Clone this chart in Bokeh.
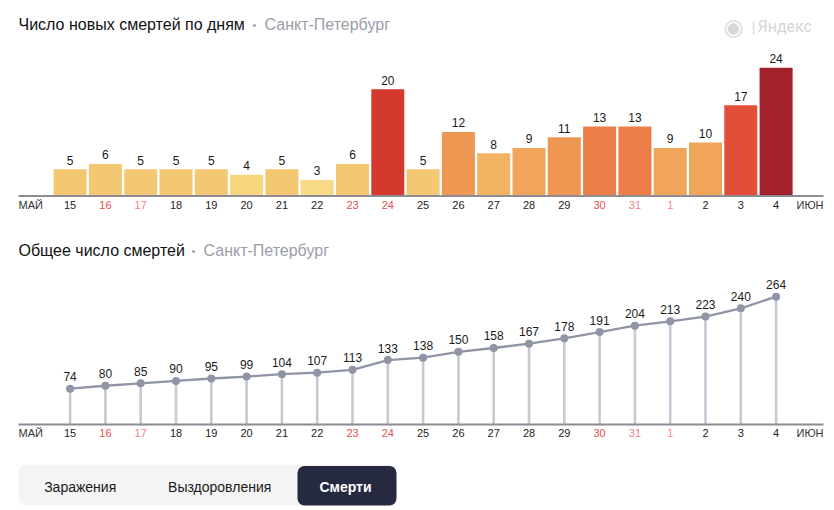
from bokeh.plotting import figure
from bokeh.layouts import column
from bokeh.models import Range1d, Label, BoxAnnotation, ColumnDataSource
from bokeh.core.properties import value
from bokeh.embed import file_html
from bokeh.resources import INLINE

# ---------------- data ----------------
days = ["15", "16", "17", "18", "19", "20", "21", "22", "23", "24", "25",
        "26", "27", "28", "29", "30", "31", "1", "2", "3", "4"]
month_start = "МАЙ"
month_end = "ИЮН"
new_deaths = [5, 6, 5, 5, 5, 4, 5, 3, 6, 20, 5, 12, 8, 9, 11, 13, 13, 9, 10, 17, 24]
total_deaths = [74, 80, 85, 90, 95, 99, 104, 107, 113, 133, 138, 150, 158, 167,
                178, 191, 204, 213, 223, 240, 264]
holiday_kind = [0, 1, 2, 0, 0, 0, 0, 0, 1, 1, 0, 0, 0, 0, 0, 1, 2, 2, 0, 0, 0]

title1 = "Число новых смертей по дням"
title2 = "Общее число смертей"
region = "Санкт-Петербург"
buttons = ["Заражения", "Выздоровления", "Смерти"]

# ---------------- styles ----------------
FONT_NAME = "Liberation Sans"
FONT = value(FONT_NAME)
DAY_COLORS = {0: "#222222", 1: "#e4514f", 2: "#ef8489"}


def bar_color(v):
    scale = [(3, "#f8d985"), (4, "#f7d680"), (6, "#f4c772"), (8, "#f2b462"),
             (10, "#f0a55a"), (12, "#ed9752"), (13, "#ec7c48"), (17, "#e24f38"),
             (20, "#d5392e"), (99, "#a3202d")]
    for lim, c in scale:
        if v <= lim:
            return c
    return scale[-1][1]


x = list(range(len(days)))
PX_PER_DAY = 35.3
FIRST_PX = 69.6
W = 834
XR = (-FIRST_PX / PX_PER_DAY, (W - FIRST_PX) / PX_PER_DAY)
AX0 = (18 - FIRST_PX) / PX_PER_DAY
AX1 = (823 - FIRST_PX) / PX_PER_DAY


def base_fig(h, xr, yr):
    p = figure(width=W, height=h, x_range=Range1d(*xr), y_range=Range1d(*yr),
               output_backend="svg", toolbar_location=None, tools="",
               x_axis_location=None, y_axis_location=None, min_border=0,
               min_border_left=0, min_border_right=0, min_border_top=0,
               min_border_bottom=0)
    p.grid.visible = False
    p.outline_line_color = None
    p.background_fill_color = None
    p.border_fill_color = None
    return p


def add_title(p, h, main, yfrom_top, dot_x, reg_x):
    yb = h - yfrom_top
    p.add_layout(Label(x=18, y=yb, x_units="screen", y_units="screen", text=main,
                       text_font=FONT_NAME, text_font_size="16px", text_color="#111111",
                       text_baseline="middle"))
    p.add_layout(Label(x=dot_x, y=yb, x_units="screen", y_units="screen", text="•",
                       text_font=FONT_NAME, text_font_size="11px", text_color="#a0a3ae",
                       text_baseline="middle", text_align="center"))
    p.add_layout(Label(x=reg_x, y=yb, x_units="screen", y_units="screen", text=region,
                       text_font=FONT_NAME, text_font_size="16px", text_color="#9a9daa",
                       text_baseline="middle"))


def add_day_axis(p):
    p.segment(x0=[AX0], y0=[0], x1=[AX1], y1=[0], line_color="#8c8c92", line_width=2)
    src = ColumnDataSource(dict(x=x, d=days, c=[DAY_COLORS[k] for k in holiday_kind]))
    p.text(x="x", y=0, text="d", text_color="c", source=src, y_offset=8.5,
           text_align="center", text_baseline="middle", text_font=FONT,
           text_font_size="11px")
    p.text(x=[AX0], y=[0], text=[month_start], text_color="#333333", y_offset=8.5,
           text_align="left", text_baseline="middle", text_font=FONT,
           text_font_size="11px")
    p.text(x=[AX1], y=[0], text=[month_end], text_color="#333333", y_offset=8.5,
           text_align="right", text_baseline="middle", text_font=FONT,
           text_font_size="11px")


# ---------------- bar chart ----------------
H1 = 223
BAR_PX = 5.34
ZERO1 = 195.5
p1 = base_fig(H1, XR, (-(H1 - ZERO1) / BAR_PX, ZERO1 / BAR_PX))
src1 = ColumnDataSource(dict(x=x, v=new_deaths, lab=[str(v) for v in new_deaths],
                             c=[bar_color(v) for v in new_deaths]))
p1.vbar(x="x", top="v", bottom=0, width=0.935, fill_color="c", line_color=None, source=src1)
p1.text(x="x", y="v", text="lab", source=src1, y_offset=-9, text_align="center",
        text_baseline="alphabetic", text_font=FONT, text_font_size="12px",
        text_color="#1a1a1a")
add_day_axis(p1)
add_title(p1, H1, title1, 24, 254, 264)

# Yandex mark
p1.add_layout(Label(x=733, y=H1 - 26, x_units="screen", y_units="screen", text="◉",
                    text_font="DejaVu Sans", text_font_size="23px",
                    text_color="#d8d8d8", text_baseline="middle", text_align="center"))
p1.add_layout(Label(x=753, y=H1 - 26, x_units="screen", y_units="screen", text="|",
                    text_font="Roboto", text_font_size="17px",
                    text_color="#dcdcdc", text_baseline="middle", text_align="center"))
p1.add_layout(Label(x=757, y=H1 - 26, x_units="screen", y_units="screen", text="Яндекс",
                    text_font="Roboto", text_font_size="16px",
                    text_color="#d6d6d6", text_baseline="middle"))

# ---------------- cumulative chart ----------------
H2 = 222
LINE_PX = 0.4842
ZERO2 = 201
p2 = base_fig(H2, XR, (-(H2 - ZERO2) / LINE_PX, ZERO2 / LINE_PX))
src2 = ColumnDataSource(dict(x=x, v=total_deaths, z=[0] * len(x),
                             lab=[str(v) for v in total_deaths]))
p2.segment(x0="x", y0="z", x1="x", y1="v", source=src2, line_color="#c6c9d3", line_width=2.6)
add_day_axis(p2)
p2.line(x="x", y="v", source=src2, line_color="#8f94a6", line_width=2.3)
p2.scatter(x="x", y="v", source=src2, size=8, fill_color="#8f94a6", line_color=None)
p2.text(x="x", y="v", text="lab", source=src2, y_offset=-12, text_align="center",
        text_baseline="alphabetic", text_font=FONT, text_font_size="12px",
        text_color="#1a1a1a")
add_title(p2, H2, title2, 27, 193, 203)

# ---------------- buttons ----------------
H3 = 65
p3 = base_fig(H3, (0, W), (H3, 0))
p3.add_layout(BoxAnnotation(left=18, right=396, top=19.3, bottom=60,
                            fill_color="#f4f4f5", fill_alpha=1, line_color=None,
                            border_radius=7))
p3.add_layout(BoxAnnotation(left=297, right=396, top=20.5, bottom=60,
                            fill_color="#262a40", fill_alpha=1, line_color=None,
                            border_radius=7))
btn_x = [79.7, 219.2, 345]
btn_col = ["#1a1a1a", "#1a1a1a", "#ffffff"]
btn_style = ["normal", "normal", "bold"]
for bx, bt, bc, bs in zip(btn_x, buttons, btn_col, btn_style):
    p3.add_layout(Label(x=bx, y=41.5, text=bt, text_font=FONT_NAME, text_font_size="14px",
                        text_color=bc, text_font_style=bs, text_align="center",
                        text_baseline="middle"))

layout = column(p1, p2, p3, spacing=0)
open("out.html", "w").write(file_html(layout, INLINE))
